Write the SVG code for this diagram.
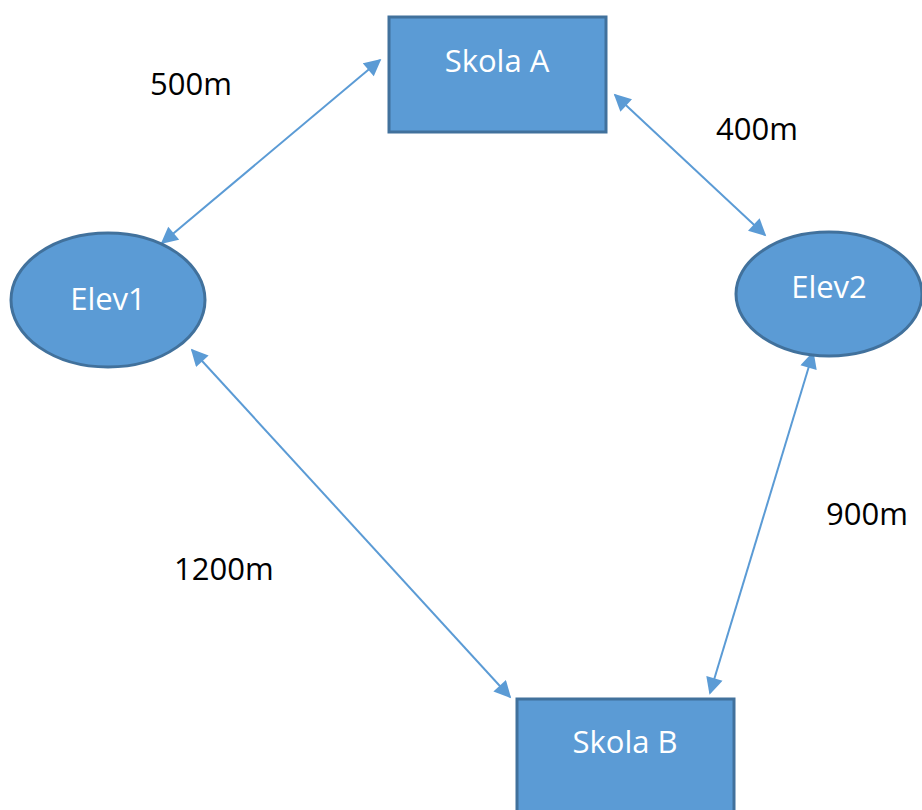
<svg xmlns="http://www.w3.org/2000/svg" width="922" height="810" viewBox="0 0 922 810">
<style>
.node{fill:#5B9BD5;stroke:#41719C;stroke-width:3}
.nt{fill:#ffffff;font-family:"Open Sans","Liberation Sans",sans-serif;font-size:31px;text-anchor:middle}
.lbl{fill:#000000;font-family:"Open Sans","Liberation Sans",sans-serif;font-size:31px}
.conn{stroke:#5B9BD5;stroke-width:2;fill:none;marker-start:url(#ah);marker-end:url(#ah)}
</style>
<defs>
<marker id="ah" viewBox="0 0 10 10" refX="9" refY="5" markerWidth="9" markerHeight="8.5" orient="auto-start-reverse" markerUnits="strokeWidth">
<path d="M0,0 L10,5 L0,10 z" fill="#5B9BD5"/>
</marker>
</defs>
<rect width="922" height="810" fill="#ffffff"/>
<g id="connectors">
<line class="conn" x1="162" y1="243" x2="380" y2="60"/>
<line class="conn" x1="615" y1="95" x2="765" y2="235"/>
<line class="conn" x1="192" y1="350" x2="510" y2="697"/>
<line class="conn" x1="813" y1="353" x2="710" y2="693"/>
</g>
<g id="skolaA">
<rect class="node" x="389" y="17" width="217" height="115"/>
<text class="nt" x="497" y="72">Skola A</text>
</g>
<g id="elev1">
<ellipse class="node" cx="108" cy="300" rx="97" ry="67"/>
<text class="nt" x="108" y="310">Elev1</text>
</g>
<g id="elev2">
<ellipse class="node" cx="829" cy="294" rx="93" ry="62"/>
<text class="nt" x="829" y="298">Elev2</text>
</g>
<g id="skolaB">
<rect class="node" x="517" y="699" width="217" height="115"/>
<text class="nt" x="625" y="753">Skola B</text>
</g>
<g id="labels">
<text class="lbl" x="150" y="95">500m</text>
<text class="lbl" x="716" y="140">400m</text>
<text class="lbl" x="826" y="525">900m</text>
<text class="lbl" x="174" y="580">1200m</text>
</g>
</svg>
